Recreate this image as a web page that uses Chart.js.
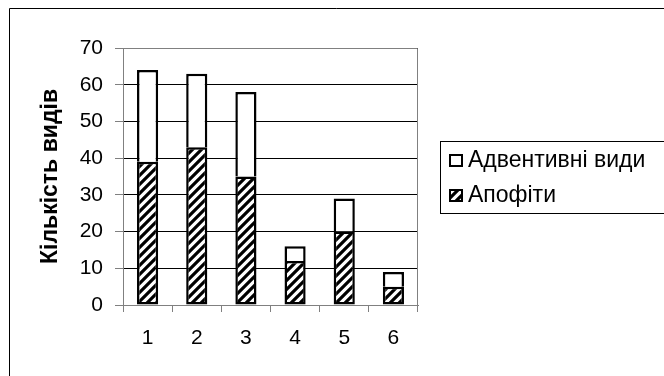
<!DOCTYPE html>
<html>
<head>
<meta charset="utf-8">
<script src="https://cdn.jsdelivr.net/npm/chart.js@4/dist/chart.umd.min.js"></script>
<style>
  html, body { margin: 0; padding: 0; background: #fff; }
  #wrap { width: 664px; height: 376px; position: relative; }
</style>
</head>
<body>
<div id="wrap"><canvas id="chart" width="664" height="376"></canvas></div>
<script>
// Дані
const categories = ['1', '2', '3', '4', '5', '6'];
const apofity = [39, 43, 35, 12, 20, 5];
const adventive = [25, 20, 23, 4, 9, 4];
const yTicks = [0, 10, 20, 30, 40, 50, 60, 70];
const seriesNames = ['Апофіти', 'Адвентивні види'];
const yTitle = 'Кількість видів';

const FONT = "'Liberation Sans', Arial, sans-serif";

// Штрихування
function makeHatch() {
  const c = document.createElement('canvas');
  c.width = 9; c.height = 9;
  const g = c.getContext('2d');
  g.fillStyle = '#fff';
  g.fillRect(0, 0, 9, 9);
  g.strokeStyle = '#000';
  g.lineWidth = 3.2;
  g.beginPath();
  g.moveTo(-2, 11); g.lineTo(11, -2);
  g.moveTo(-7, 7); g.lineTo(7, -7);
  g.moveTo(2, 16); g.lineTo(16, 2);
  g.stroke();
  return g.createPattern(c, 'repeat');
}
const hatch = makeHatch();

// Рамка, межа області графіка і легенда
const decor = {
  id: 'decor',
  beforeDraw(chart) {
    const ctx = chart.ctx;
    ctx.save();
    ctx.fillStyle = '#fff';
    ctx.fillRect(0, 0, chart.width, chart.height);
    ctx.strokeStyle = '#000';
    ctx.lineWidth = 1;
    ctx.beginPath();
    ctx.moveTo(9.5, 376);
    ctx.lineTo(9.5, 8.5);
    ctx.lineTo(664, 8.5);
    ctx.stroke();
    ctx.restore();
  },
  afterDatasetsDraw(chart) {
    const ctx = chart.ctx;
    const a = chart.chartArea;
    ctx.save();
    ctx.strokeStyle = '#808080';
    ctx.lineWidth = 1;
    ctx.beginPath();
    ctx.moveTo(a.left + 0.5, a.top + 0.5);
    ctx.lineTo(a.right - 0.5, a.top + 0.5);
    ctx.lineTo(a.right - 0.5, a.bottom);
    ctx.stroke();

    // легенда
    const lx = 440.5, ly = 141.5, lw = 224, lh = 72;
    ctx.strokeStyle = '#000';
    ctx.strokeRect(lx, ly, lw, lh);
    const items = chart.data.datasets.slice().reverse();
    ctx.font = '23px ' + FONT;
    ctx.textBaseline = 'middle';
    items.forEach((ds, i) => {
      const cy = 160 + i * 35;
      ctx.fillStyle = ds.backgroundColor;
      ctx.fillRect(449, cy - 6, 14, 13);
      ctx.lineWidth = 2;
      ctx.strokeStyle = '#000';
      ctx.strokeRect(450, cy - 5, 12, 11);
      ctx.fillStyle = '#000';
      ctx.fillText(ds.label, 468, cy + 1);
    });
    ctx.restore();
  }
};

new Chart(document.getElementById('chart'), {
  type: 'bar',
  data: {
    labels: categories,
    datasets: [
      {
        label: seriesNames[0],
        data: apofity,
        backgroundColor: hatch,
        borderColor: '#000',
        borderWidth: 2.5,
        borderSkipped: false
      },
      {
        label: seriesNames[1],
        data: adventive,
        backgroundColor: '#fff',
        borderColor: '#000',
        borderWidth: 2.5,
        borderSkipped: 'start'
      }
    ]
  },
  options: {
    responsive: false,
    animation: false,
    datasets: { bar: { barPercentage: 0.43, categoryPercentage: 1 } },
    layout: { padding: { left: 0, top: 48, right: 246, bottom: 0 } },
    plugins: { legend: { display: false }, tooltip: { enabled: false } },
    scales: {
      x: {
        stacked: true,
        afterFit(s) { s.height = 71; },
        grid: { drawOnChartArea: false, drawTicks: true, tickLength: 7, color: '#808080', offset: true },
        border: { color: '#808080' },
        ticks: { color: '#000', font: { family: FONT, size: 21 }, padding: 14 }
      },
      y: {
        stacked: true,
        min: 0, max: 70,
        afterFit(s) { s.width = 123; },
        afterBuildTicks(s) { s.ticks = yTicks.map(v => ({ value: v })); },
        grid: { color: '#000', tickColor: '#808080', tickLength: 8 },
        border: { color: '#808080' },
        ticks: { color: '#000', font: { family: FONT, size: 21 }, padding: 12 },
        title: {
          display: true,
          text: yTitle,
          color: '#000',
          font: { family: FONT, size: 23, weight: 'bold' },
          padding: { top: 37, bottom: 0 }
        }
      }
    }
  },
  plugins: [decor]
});
</script>
</body>
</html>
